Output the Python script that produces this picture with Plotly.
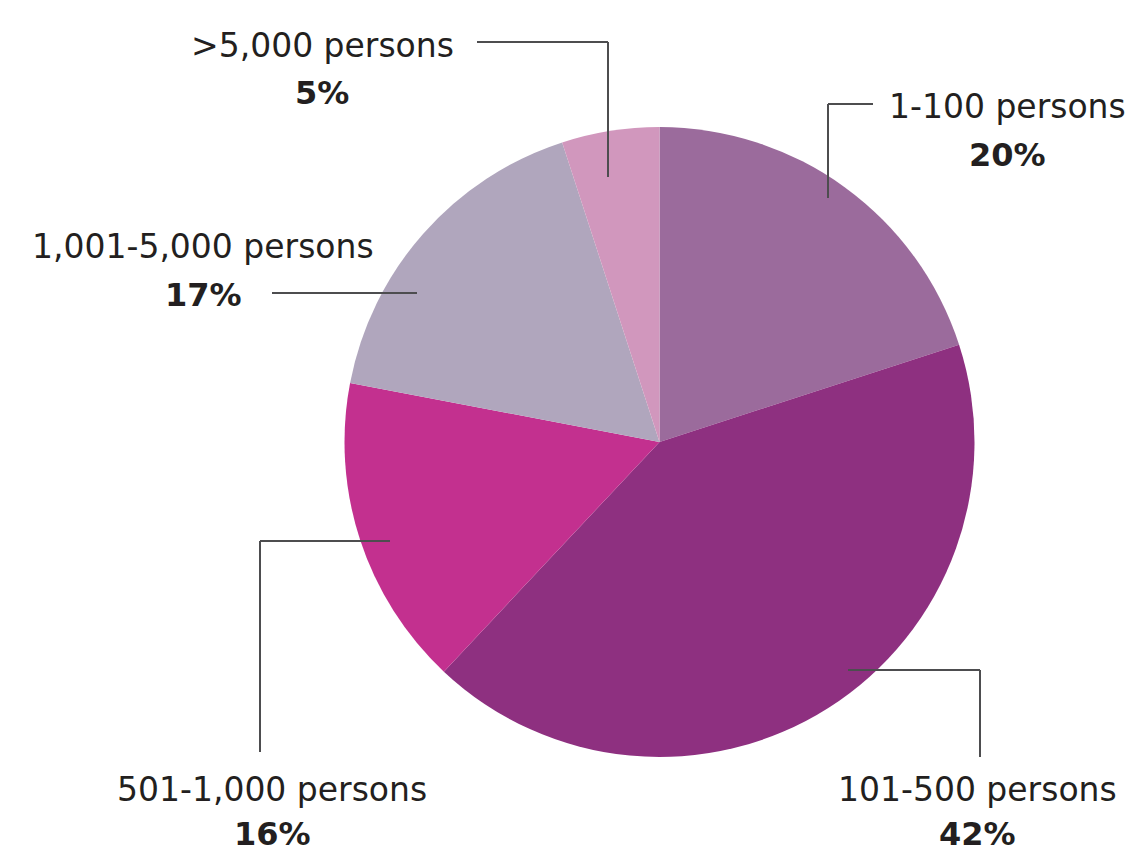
import plotly.graph_objects as go

# Company size distribution
categories = ["1-100 persons", "101-500 persons", "501-1,000 persons",
              "1,001-5,000 persons", ">5,000 persons"]
shares = [20, 42, 16, 17, 5]
colors = ["#9b6b9c", "#8e3080", "#c3308f", "#b0a6bd", "#d197bd"]

W, H = 1139, 852


def px(x):
    return x / W


def py(y):
    return 1 - y / H


fig = go.Figure(go.Pie(
    labels=categories,
    values=shares,
    sort=False,
    direction="clockwise",
    rotation=0,
    marker=dict(colors=colors, line=dict(width=0)),
    textinfo="none",
    hoverinfo="label+percent",
    showlegend=False,
    domain=dict(x=[px(342), px(977)], y=[py(757), py(127)]),
))

# label placement: (category, text centre x, name line y, percent line y, leader path)
label_layout = [
    (">5,000 persons", 322, 45, 93, [(477, 42), (608, 42), (608, 177)]),
    ("1-100 persons", 1007, 106, 155, [(828, 198), (828, 104), (873, 104)]),
    ("1,001-5,000 persons", 203, 246, 295, [(272, 293), (417, 293)]),
    ("501-1,000 persons", 272, 789, 834, [(390, 541), (260, 541), (260, 752)]),
    ("101-500 persons", 977, 789, 834, [(848, 670), (980, 670), (980, 757)]),
]

text_color = "#231f20"
font_family = "DejaVu Sans, sans-serif"

for name, cx, y1, y2, path in label_layout:
    pct = shares[categories.index(name)]
    fig.add_annotation(x=px(cx), y=py(y1), xref="paper", yref="paper",
                       text=name, showarrow=False, xanchor="center", yanchor="middle",
                       font=dict(size=33, color=text_color, family=font_family))
    fig.add_annotation(x=px(cx), y=py(y2), xref="paper", yref="paper",
                       text=f"<b>{pct}%</b>", showarrow=False, xanchor="center", yanchor="middle",
                       font=dict(size=32, color=text_color, family=font_family))
    for (xa, ya), (xb, yb) in zip(path[:-1], path[1:]):
        fig.add_shape(type="line", xref="paper", yref="paper",
                      x0=px(xa), y0=py(ya), x1=px(xb), y1=py(yb),
                      line=dict(color="#4d4d4f", width=2))

fig.update_layout(
    width=W, height=H,
    margin=dict(l=0, r=0, t=0, b=0),
    paper_bgcolor="white",
    plot_bgcolor="white",
)

fig.write_html("out.html")
